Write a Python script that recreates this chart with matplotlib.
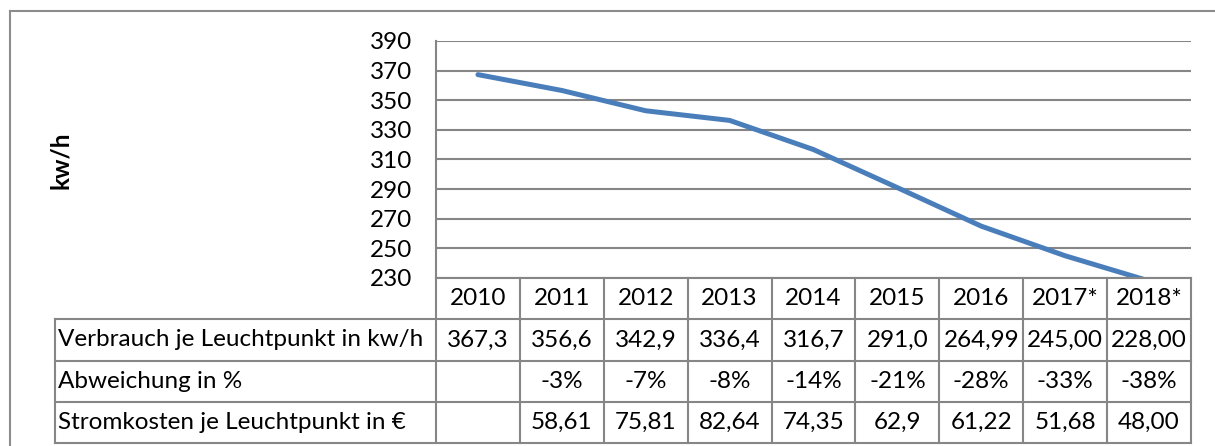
import matplotlib
matplotlib.use("Agg")
import matplotlib.pyplot as plt

plt.rcParams['font.family'] = ['Lato', 'DejaVu Sans']

years = ["2010", "2011", "2012", "2013", "2014", "2015", "2016", "2017*", "2018*"]
verbrauch = [367.3, 356.6, 342.9, 336.4, 316.7, 291.0, 264.99, 245.00, 228.00]
verbrauch_txt = ["367,3", "356,6", "342,9", "336,4", "316,7", "291,0", "264,99", "245,00", "228,00"]
abweichung_txt = ["", "-3%", "-7%", "-8%", "-14%", "-21%", "-28%", "-33%", "-38%"]
kosten_txt = ["", "58,61", "75,81", "82,64", "74,35", "62,9", "61,22", "51,68", "48,00"]
row_labels = ["Verbrauch je Leuchtpunkt in kw/h", "Abweichung in %",
              "Stromkosten je Leuchtpunkt in \u20ac"]
yticks = [230, 250, 270, 290, 310, 330, 350, 370, 390]

W, H = 1215, 446
fig = plt.figure(figsize=(W / 100, H / 100), dpi=100)

def px(x0, y0, x1, y1):
    return [x0 / W, 1 - y1 / H, (x1 - x0) / W, (y1 - y0) / H]

grid_c = "#868686"
fs = 17.5

# outer chart border (only top and left visible)
fig.add_artist(plt.Line2D([10 / W, 10 / W], [0, 1 - 11 / H], color="#8c8c8c", lw=1.5,
                          transform=fig.transFigure))
fig.add_artist(plt.Line2D([10 / W, 1], [1 - 11 / H, 1 - 11 / H], color="#8c8c8c", lw=1.5,
                          transform=fig.transFigure))

# line chart
ax = fig.add_axes(px(436, 41, 1191, 278))
xs = [i + 0.5 for i in range(len(years))]
ax.plot(xs, verbrauch, color="#4A7EBB", lw=3.6, solid_capstyle="round")
ax.set_xlim(0, len(years))
ax.set_ylim(230, 390)
ax.set_yticks(yticks)
ax.set_yticklabels([str(v) for v in yticks], fontsize=fs)
ax.set_xticks([])
ax.grid(axis="y", color=grid_c, lw=1.5)
ax.set_axisbelow(True)
for s in ["top", "right", "bottom"]:
    ax.spines[s].set_visible(False)
ax.spines["left"].set_color(grid_c)
ax.spines["left"].set_linewidth(1.5)
ax.tick_params(axis="y", length=0, pad=17)
ax.set_ylabel("kw/h", fontsize=fs, fontweight="bold", va="center", ha="center")
ax.yaxis.set_label_coords((60 - 436) / 755, (278 - 160) / 237)

# data table below
col_w = (1191 - 436) / len(years)
lab_w = (436 - 55) / col_w
tax = fig.add_axes(px(55, 278, 1191, 443))
tax.set_xlim(-lab_w, len(years))
tax.set_ylim(4, 0)
tax.axis("off")

lkw = dict(color=grid_c, lw=1.5, clip_on=False)
# horizontal lines
tax.plot([0, len(years)], [0, 0], **lkw)
for r in [1, 2, 3, 4]:
    tax.plot([-lab_w, len(years)], [r, r], **lkw)
# vertical lines
tax.plot([-lab_w, -lab_w], [1, 4], **lkw)
for c in range(len(years) + 1):
    tax.plot([c, c], [0, 4], **lkw)

for i, y in enumerate(years):
    tax.text(i + 0.5, 0.5, y, ha="center", va="center", fontsize=fs)
rows = [verbrauch_txt, abweichung_txt, kosten_txt]
for r, (lab, vals) in enumerate(zip(row_labels, rows)):
    tax.text(-lab_w + 0.03, r + 1.5, lab, ha="left", va="center", fontsize=fs)
    for i, v in enumerate(vals):
        tax.text(i + 0.5, r + 1.5, v, ha="center", va="center", fontsize=fs)

fig.savefig("out.png", dpi=100)
